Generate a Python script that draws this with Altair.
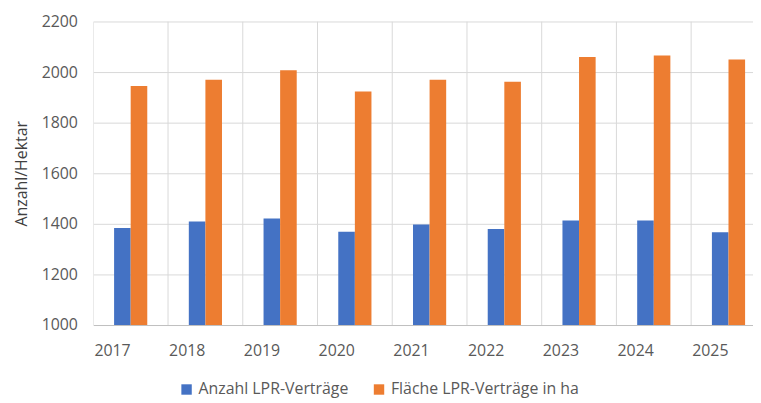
import altair as alt
import pandas as pd

years = ["2017", "2018", "2019", "2020", "2021", "2022", "2023", "2024", "2025"]
anzahl = [1384, 1409, 1421, 1369, 1397, 1380, 1413, 1413, 1367]
flaeche = [1945, 1970, 2007, 1923, 1970, 1962, 2060, 2065, 2050]
series = ["Anzahl LPR-Verträge", "Fläche LPR-Verträge in ha"]
colors = ["#4472C4", "#ED7D31"]

rows = []
for i, y in enumerate(years):
    rows.append({"Jahr": y, "Reihe": series[0], "Wert": anzahl[i]})
    rows.append({"Jahr": y, "Reihe": series[1], "Wert": flaeche[i]})
df = pd.DataFrame(rows)

FONT = "Open Sans"
TXT = "#595959"
PI = 0.556
W = 665
STEP = 75.33
n = len(years)
PO = (W / STEP - n + PI) / 2
leftover = W - STEP * (n - PI)
ALIGN = (PI / 2 * STEP) / leftover

xscale = alt.Scale(domain=years, paddingInner=PI, paddingOuter=PO, align=ALIGN)

bars = alt.Chart(df).mark_bar(clip=True).encode(
    x=alt.X("Jahr:N", sort=years, title=None, scale=xscale,
            axis=alt.Axis(labelAngle=0, labelFont=FONT, labelFontSize=16,
                          labelColor=TXT, labelPadding=26, ticks=False,
                          labelBaseline="middle",
                          domain=True, domainColor="#BFBFBF", grid=False)),
    xOffset=alt.XOffset("Reihe:N", sort=series),
    y=alt.Y("Wert:Q", title="Anzahl/Hektar",
            scale=alt.Scale(domain=[1000, 2200], nice=False, zero=False),
            axis=alt.Axis(values=[1000, 1200, 1400, 1600, 1800, 2000, 2200],
                          format="d",
                          labelFont=FONT, labelFontSize=16, labelColor=TXT,
                          labelPadding=16, ticks=False, domain=False,
                          gridColor="#D9D9D9", titleFont=FONT, titleFontSize=16,
                          titleColor="#404040", titleFontWeight="normal",
                          titlePadding=12)),
    color=alt.Color("Reihe:N", sort=series,
                    scale=alt.Scale(domain=series, range=colors),
                    legend=alt.Legend(title=None, orient="none", direction="horizontal",
                                      legendX=86, legendY=363,
                                      symbolType="square", symbolSize=110,
                                      symbolStrokeWidth=0, labelLimit=400,
                                      labelFont=FONT, labelFontSize=16, labelColor=TXT,
                                      labelOffset=4, columnPadding=22)),
)

vgrid = alt.Chart(pd.DataFrame({"Jahr": years})).mark_rule(
    color="#D9D9D9", strokeWidth=1, clip=True, xOffset=-PI * STEP / 2
).encode(
    x=alt.X("Jahr:N", sort=years, scale=xscale, bandPosition=0),
)

final = alt.layer(vgrid, bars).properties(
    width=W, height=306, padding={"left": 5, "top": 4, "right": 0, "bottom": 0}
).configure_view(stroke=None)

final.save("out.html", embed_options={"renderer": "svg", "actions": False})
